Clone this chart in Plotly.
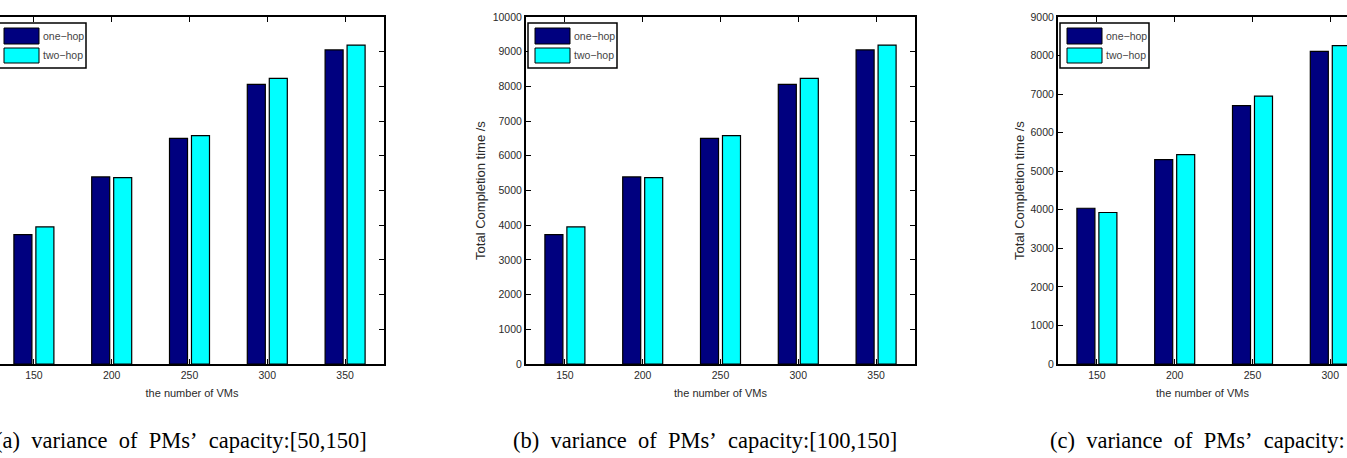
import plotly.graph_objects as go

# ---------------- data ----------------
categories = ["150", "200", "250", "300", "350"]
series_names = ["one\u2212hop", "two\u2212hop"]

# panel (a): variance of PMs' capacity [50,150]
a_one_hop = [3730, 5390, 6500, 8060, 9050]
a_two_hop = [3950, 5370, 6580, 8230, 9190]
# panel (b): variance of PMs' capacity [100,150]
b_one_hop = [3730, 5390, 6500, 8060, 9050]
b_two_hop = [3950, 5370, 6580, 8230, 9190]
# panel (c): only the first four groups are visible in the picture
c_one_hop = [4040, 5300, 6700, 8110]
c_two_hop = [3930, 5430, 6950, 8255]

y_ticks_ab = [0, 1000, 2000, 3000, 4000, 5000, 6000, 7000, 8000, 9000, 10000]
y_ticks_c = [0, 1000, 2000, 3000, 4000, 5000, 6000, 7000, 8000, 9000]

captions = ["(a) variance of PMs\u2019 capacity:[50,150]",
            "(b) variance of PMs\u2019 capacity:[100,150]",
            "(c) variance of PMs\u2019 capacity:"]

x_title = "the number of VMs"
y_title = "Total Completion time /s"

# ---------------- styling / layout ----------------
W, H = 1347, 458
NAVY = "#00007f"
CYAN = "#00ffff"
TXT = "#2a2a2a"
UNIT = 389 / 5.0          # pixels per category
TOP, BOTTOM = 17, 364     # plot area top/bottom in pixels


def px(x):
    return x / W


def py(y):
    return 1 - y / H


def wide(s):
    # LaTeX-justified captions have wide inter-word spacing
    return s.replace(" ", "\u2002")


pos = list(range(1, len(categories) + 1))

fig = go.Figure()
panels = [
    ("x", "y", a_one_hop, a_two_hop),
    ("x2", "y2", b_one_hop, b_two_hop),
    ("x3", "y3", c_one_hop, c_two_hop),
]
for xa, ya, one, two in panels:
    fig.add_trace(go.Bar(x=pos[:len(one)], y=one, name=series_names[0], xaxis=xa, yaxis=ya,
                         marker=dict(color=NAVY, line=dict(color="black", width=1.2)),
                         showlegend=False))
    fig.add_trace(go.Bar(x=pos[:len(two)], y=two, name=series_names[1], xaxis=xa, yaxis=ya,
                         marker=dict(color=CYAN, line=dict(color="black", width=1.2)),
                         showlegend=False))

# plot area pixel positions (left, right)
a_left, a_right = -5, 384
b_left, b_right = 526, 915
c_left, c_right = 1058, 1347

tickfont = dict(family="Liberation Sans, Arial, sans-serif", size=10.5, color=TXT)
titlefont = dict(family="Liberation Sans, Arial, sans-serif", size=11, color=TXT)
ytitlefont = dict(family="Liberation Sans, Arial, sans-serif", size=13, color=TXT)

common_x = dict(tickmode="array", tickvals=pos, ticktext=categories, ticks="inside",
                ticklen=5, tickwidth=1, tickcolor="black", showline=True, linecolor="black",
                linewidth=2, mirror="ticks", showgrid=False, zeroline=False,
                tickfont=tickfont, automargin=False)
common_y = dict(ticks="inside", ticklen=5, tickwidth=1, tickcolor="black", showline=True,
                linecolor="black", linewidth=2, showgrid=False, zeroline=False,
                tickfont=tickfont, automargin=False, tickmode="array")

ydom = [py(BOTTOM), py(TOP)]

layout = dict(
    width=W, height=H, margin=dict(l=0, r=0, t=0, b=0), template="none",
    paper_bgcolor="white", plot_bgcolor="white",
    barmode="group", bargap=0.435, bargroupgap=0.18, showlegend=False,
    xaxis=dict(common_x, domain=[0, px(a_right)], anchor="y",
               range=[5.5 - a_right / UNIT, 5.5],
               title=dict(text=x_title, font=titlefont, standoff=10)),
    yaxis=dict(common_y, domain=ydom, anchor="x", side="right", mirror=False,
               showticklabels=False, range=[0, 10000], tickvals=y_ticks_ab,
               ticktext=[str(v) for v in y_ticks_ab]),
    xaxis2=dict(common_x, domain=[px(b_left), px(b_right)], anchor="y2",
                range=[0.5, 5.5],
                title=dict(text=x_title, font=titlefont, standoff=10)),
    yaxis2=dict(common_y, domain=ydom, anchor="x2", mirror="ticks", range=[0, 10000],
                tickvals=y_ticks_ab, ticktext=[str(v) for v in y_ticks_ab],
                title=dict(text=y_title, font=ytitlefont, standoff=4)),
    xaxis3=dict(common_x, domain=[px(c_left), 1], anchor="y3",
                range=[0.5, 0.5 + (c_right - c_left) / UNIT],
                title=dict(text=x_title, font=titlefont, standoff=10)),
    yaxis3=dict(common_y, domain=ydom, anchor="x3", mirror=False, range=[0, 9000],
                tickvals=y_ticks_c, ticktext=[str(v) for v in y_ticks_c],
                title=dict(text=y_title, font=ytitlefont, standoff=3)),
)
fig.update_layout(**layout)

# ---------------- hand-made MATLAB-style legends ----------------
shapes = []
annotations = []
for L in (a_left, b_left, c_left):
    shapes.append(dict(type="rect", xref="paper", yref="paper",
                       x0=px(L + 2), x1=px(L + 91), y0=py(68), y1=py(23),
                       line=dict(color="black", width=1.5), fillcolor="white", layer="above"))
    for (y0, y1, col, name) in ((28, 44, NAVY, series_names[0]), (48, 63, CYAN, series_names[1])):
        shapes.append(dict(type="rect", xref="paper", yref="paper",
                           x0=px(L + 9), x1=px(L + 44), y0=py(y1), y1=py(y0),
                           line=dict(color="black", width=1), fillcolor=col, layer="above"))
        annotations.append(dict(xref="paper", yref="paper", x=px(L + 46), y=py((y0 + y1) / 2),
                                xanchor="left", yanchor="middle", showarrow=False, text=name,
                                font=dict(family="Liberation Sans, Arial, sans-serif",
                                          size=10.5, color="#444444")))

# ---------------- captions ----------------
cap_font = dict(family="Liberation Serif, Times New Roman, serif", size=22.5, color="black")
annotations.append(dict(xref="paper", yref="paper", x=px(369), y=py(440), xanchor="right",
                        yanchor="middle", showarrow=False, text=wide(captions[0]), font=cap_font))
annotations.append(dict(xref="paper", yref="paper", x=px(705), y=py(440), xanchor="center",
                        yanchor="middle", showarrow=False, text=wide(captions[1]), font=cap_font))
annotations.append(dict(xref="paper", yref="paper", x=px(1048), y=py(440), xanchor="left",
                        yanchor="middle", showarrow=False, text=wide(captions[2]), font=cap_font))

fig.update_layout(shapes=shapes, annotations=annotations)

fig.write_html("out.html")
